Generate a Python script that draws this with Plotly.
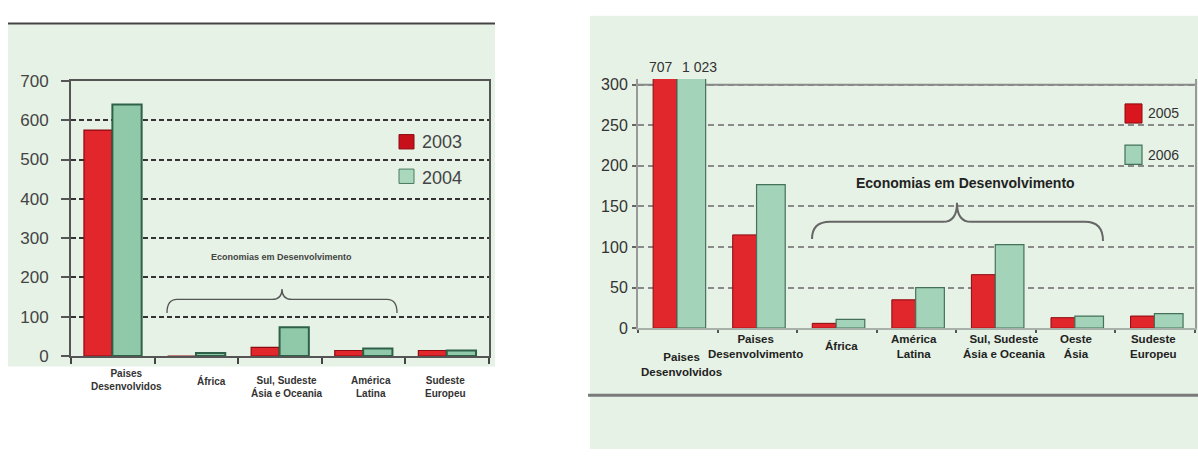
import plotly.graph_objects as go

W, H = 1198, 459

# ---- left chart: 2003 / 2004 ----
left_categories = ["Paises\nDesenvolvidos", "África", "Sul, Sudeste\nÁsia e Oceania",
                   "América\nLatina", "Sudeste\nEuropeu"]
left_years = ["2003", "2004"]
values_2003 = [575, 0, 22, 14, 14]
values_2004 = [640, 8, 73, 19, 14]
left_yticks = [0, 100, 200, 300, 400, 500, 600, 700]

# ---- right chart: 2005 / 2006 ----
right_categories = ["Paises\nDesenvolvidos", "Paises\nDesenvolvimento", "África",
                    "América\nLatina", "Sul, Sudeste\nÁsia e Oceania", "Oeste\nÁsia",
                    "Sudeste\nEuropeu"]
right_years = ["2005", "2006"]
values_2005 = [707, 115, 6, 35, 66, 13, 15]
values_2006 = [1023, 177, 11, 50, 103, 15, 18]
right_yticks = [0, 50, 100, 150, 200, 250, 300]

group_title = "Economias em Desenvolvimento"

FONT = "Arial, Liberation Sans, sans-serif"
PANEL_BG = "#e6f2e5"
RED, RED_EDGE = "#e1262c", "#8a0b10"
GREEN_L, GREEN_L_EDGE = "#8fc9aa", "#2f6048"
GREEN_R, GREEN_R_EDGE = "#a3d3b8", "#44715a"


def px(x):
    return x / W


def py(y):
    return 1 - y / H


def br(s):
    return s.replace("\n", "<br>")


fig = go.Figure()

# bars of the left chart
fig.add_trace(go.Bar(x=left_categories, y=values_2003, name=left_years[0],
                     offset=-0.345, width=0.335,
                     marker=dict(color=RED, line=dict(color=RED_EDGE, width=1.2)),
                     xaxis="x", yaxis="y", showlegend=False))
fig.add_trace(go.Bar(x=left_categories, y=values_2004, name=left_years[1],
                     offset=-0.005, width=0.35,
                     marker=dict(color=GREEN_L, line=dict(color=GREEN_L_EDGE, width=2)),
                     xaxis="x", yaxis="y", showlegend=False))

# bars of the right chart
fig.add_trace(go.Bar(x=right_categories, y=values_2005, name=right_years[0],
                     offset=-0.31, width=0.30,
                     marker=dict(color=RED, line=dict(color=RED_EDGE, width=1)),
                     xaxis="x2", yaxis="y2", showlegend=False))
fig.add_trace(go.Bar(x=right_categories, y=values_2006, name=right_years[1],
                     offset=-0.01, width=0.36,
                     marker=dict(color=GREEN_R, line=dict(color=GREEN_R_EDGE, width=1.2)),
                     xaxis="x2", yaxis="y2", showlegend=False))

right_top = 300 * 260 / 254  # bars of the first group run slightly past 300

fig.update_layout(
    width=W, height=H,
    margin=dict(l=0, r=0, t=0, b=0),
    paper_bgcolor="white",
    plot_bgcolor="white",
    barmode="group",
    font=dict(family=FONT, color="#333"),
    xaxis=dict(domain=[px(71), px(489)], anchor="y", type="category",
               showticklabels=False, tickson="boundaries", ticks="outside",
               ticklen=6, tickwidth=2, tickcolor="#444",
               showline=True, linecolor="#555", linewidth=2, mirror=True,
               showgrid=False),
    yaxis=dict(domain=[py(362), py(75)], anchor="x", range=[0, 700],
               tickvals=left_yticks, ticks="outside", ticklen=8, tickwidth=2,
               tickcolor="#555", ticklabelstandoff=9,
               tickfont=dict(size=17, color="#444"),
               showline=True, linecolor="#555", linewidth=2, mirror=True,
               showgrid=True, gridcolor="#333", gridwidth=1.6,
               griddash="5px,3px", zeroline=False),
    xaxis2=dict(domain=[px(638), px(1195)], anchor="y2", type="category",
                showticklabels=False, tickson="boundaries", ticks="outside",
                ticklen=3, tickwidth=2, tickcolor="#555",
                showline=True, linecolor="#a8b0aa", linewidth=2,
                showgrid=False),
    yaxis2=dict(domain=[py(333), py(73)], anchor="x2", range=[0, right_top],
                tickvals=right_yticks, ticks="outside", ticklen=4, tickwidth=2,
                tickcolor="#666", ticklabelstandoff=1,
                tickfont=dict(size=16, color="#333"),
                showline=True, linecolor="#999", linewidth=2, mirror=True,
                showgrid=True, gridcolor="#8a8a8a", gridwidth=2,
                griddash="6px,4px", zeroline=False),
)

shapes = [
    # panel backgrounds and rules
    dict(type="rect", xref="paper", yref="paper", x0=px(8), x1=px(495),
         y0=py(373), y1=py(16), fillcolor=PANEL_BG, line_width=0, layer="below"),
    dict(type="line", xref="paper", yref="paper", x0=px(8), x1=px(495),
         y0=py(15), y1=py(15), line=dict(color="#444", width=2)),
    dict(type="rect", xref="paper", yref="paper", x0=px(590), x1=px(1198),
         y0=py(459), y1=py(7), fillcolor=PANEL_BG, line_width=0, layer="below"),
    dict(type="line", xref="paper", yref="paper", x0=px(588), x1=px(1198),
         y0=py(403), y1=py(403), line=dict(color="#7a7a7a", width=3)),
    # top border of the right chart at 300, kept under the bars
    dict(type="line", xref="x2 domain", yref="y2", x0=0, x1=1, y0=300, y1=300,
         line=dict(color="#8a8a8a", width=2), layer="below"),
]


def brace(x0, x1, y_left, y_right, y_flat, x_tip, y_tip, r, rt):
    pts = [
        f"M {px(x0)},{py(y_left)}",
        f"Q {px(x0)},{py(y_flat)} {px(x0 + r)},{py(y_flat)}",
        f"L {px(x_tip - rt)},{py(y_flat)}",
        f"Q {px(x_tip)},{py(y_flat)} {px(x_tip)},{py(y_tip)}",
        f"Q {px(x_tip)},{py(y_flat)} {px(x_tip + rt)},{py(y_flat)}",
        f"L {px(x1 - r)},{py(y_flat)}",
        f"Q {px(x1)},{py(y_flat)} {px(x1)},{py(y_right)}",
    ]
    return " ".join(pts)


shapes.append(dict(type="path", xref="paper", yref="paper",
                   path=brace(167, 397, 317, 317, 303, 282, 292, 10, 10),
                   line=dict(color="#555", width=1.3)))
shapes.append(dict(type="path", xref="paper", yref="paper",
                   path=brace(812, 1103, 240, 242, 222, 957, 202, 18, 14),
                   line=dict(color="#666", width=2)))

# legend swatches
shapes += [
    dict(type="rect", xref="paper", yref="paper", x0=px(399), x1=px(414),
         y0=py(146), y1=py(131), fillcolor="#c8101a", line=dict(color="#8a0b10", width=1)),
    dict(type="rect", xref="paper", yref="paper", x0=px(399), x1=px(414),
         y0=py(182), y1=py(167), fillcolor="#a9d8bd", line=dict(color="#4a7a60", width=1)),
    dict(type="rect", xref="paper", yref="paper", x0=px(1125), x1=px(1142),
         y0=py(119), y1=py(99), fillcolor="#d9151d", line=dict(color="#8a0b10", width=1)),
    dict(type="rect", xref="paper", yref="paper", x0=px(1125), x1=px(1142),
         y0=py(162), y1=py(142), fillcolor="#a3d3b8", line=dict(color="#44715a", width=1.2)),
]

ann = []
# legend texts
ann.append(dict(xref="paper", yref="paper", x=px(420), y=py(139), text=left_years[0],
                showarrow=False, xanchor="left", yanchor="middle",
                font=dict(size=18, color="#444")))
ann.append(dict(xref="paper", yref="paper", x=px(420), y=py(176), text=left_years[1],
                showarrow=False, xanchor="left", yanchor="middle",
                font=dict(size=18, color="#444")))
ann.append(dict(xref="paper", yref="paper", x=px(1146), y=py(109), text=right_years[0],
                showarrow=False, xanchor="left", yanchor="middle",
                font=dict(size=14, color="#333")))
ann.append(dict(xref="paper", yref="paper", x=px(1146), y=py(152), text=right_years[1],
                showarrow=False, xanchor="left", yanchor="middle",
                font=dict(size=14, color="#333")))

# group titles
ann.append(dict(xref="paper", yref="paper", x=px(281), y=py(259), text=group_title,
                showarrow=False, xanchor="center", yanchor="middle",
                font=dict(size=9, color="#444", weight="bold")))
ann.append(dict(xref="paper", yref="paper", x=px(965), y=py(181), text=group_title,
                showarrow=False, xanchor="center", yanchor="middle",
                font=dict(size=14, color="#222", weight="bold")))

# category labels, left chart
left_dx = [14, 15, 7, 7, -2]
left_dy = [7, 0, 0, 0, 0]
for cat, dx, dy in zip(left_categories, left_dx, left_dy):
    ann.append(dict(xref="x", yref="paper", x=cat, y=py(380), text=br(cat),
                    showarrow=False, xanchor="center", yanchor="top",
                    xshift=dx, yshift=dy,
                    font=dict(size=10, color="#333", weight="bold")))

# category labels, right chart
right_dx = [4, -2, 5, -3, 8, 0, -2]
right_dy = [-18, 0, 0, 0, 0, 0, 0]
for cat, dx, dy in zip(right_categories, right_dx, right_dy):
    ann.append(dict(xref="x2", yref="paper", x=cat, y=py(352), text=br(cat),
                    showarrow=False, xanchor="center", yanchor="middle",
                    xshift=dx, yshift=dy,
                    font=dict(size=11.5, color="#222", weight="bold")))


# values of the bars that run off the top of the right chart
def fmt(v):
    return f"{v:,}".replace(",", " ")


ann.append(dict(xref="x2", yref="y2", x=right_categories[0], y=300,
                text=fmt(values_2005[0]), showarrow=False, xanchor="center",
                yanchor="middle", xshift=-17, yshift=18,
                font=dict(size=14, color="#333")))
ann.append(dict(xref="x2", yref="y2", x=right_categories[0], y=300,
                text=fmt(values_2006[0]), showarrow=False, xanchor="center",
                yanchor="middle", xshift=22, yshift=18,
                font=dict(size=14, color="#333")))

fig.update_layout(shapes=shapes, annotations=ann)

fig.write_html("out.html")
